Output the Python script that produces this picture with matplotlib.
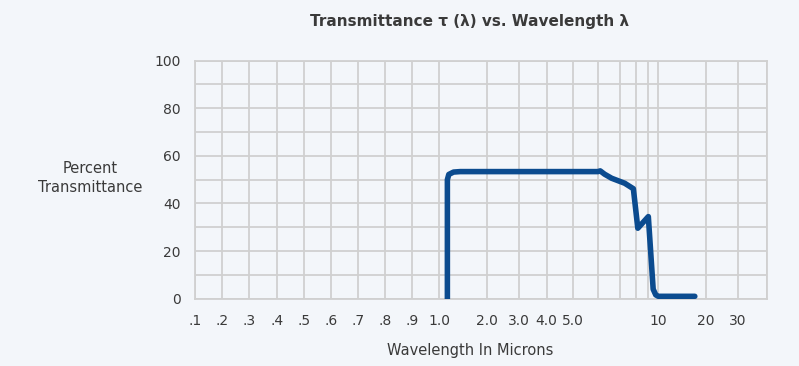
import numpy as np
import matplotlib
matplotlib.use('Agg')
import matplotlib.pyplot as plt

# eixo x desenhado a mao no original: posicao relativa de cada marca
tick_wl = [0.1, 0.2, 0.3, 0.4, 0.5, 0.6, 0.7, 0.8, 0.9, 1.0,
           2, 3, 4, 5, 6, 7, 8, 9, 10, 20, 30, 40]
tick_pos = [194.7, 222.3, 249.3, 276.7, 303.7, 331, 358, 385.3, 412.3, 439.3,
            486.7, 519.3, 546.7, 573.3, 598, 620, 635.7, 648, 658.3, 705.7, 737.7, 766.7]
tick_labels = ['.1', '.2', '.3', '.4', '.5', '.6', '.7', '.8', '.9', '1.0',
               '2.0', '3.0', '4.0', '5.0', '', '', '', '', '10', '20', '30', '']

# curva de transmitancia
wavelength = [1.17, 1.17, 1.2, 1.3, 1.44, 3.0, 5.0, 6.0, 6.1, 6.3, 6.62, 7.3, 7.85,
              8.17, 9.03, 9.5, 9.75, 10.0, 12.0, 17.7]
transmit = [0, 50, 52.2, 53.2, 53.4, 53.4, 53.4, 53.4, 53.7, 52.3, 50.6, 48.5, 46.2,
            29.6, 34.5, 4.0, 1.6, 1.0, 1.0, 1.0]

BG = '#f3f6fa'
GRID = '#d0d0d0'
TXT = '#3a3a3a'
LINE = '#0b4b8f'


def fwd(x):
    return np.interp(x, tick_wl, tick_pos)


def inv(p):
    return np.interp(p, tick_pos, tick_wl)


fig = plt.figure(figsize=(7.99, 3.66), dpi=100, facecolor=BG)
ax = fig.add_axes([0.2437, 0.1839, 0.7159, 0.6503])
ax.set_facecolor(BG)

ax.set_xscale('function', functions=(fwd, inv))
ax.set_xlim(0.1, 40)
ax.set_ylim(0, 100)

ax.set_xticks(tick_wl)
ax.set_xticklabels(tick_labels)
ax.set_yticks(np.arange(0, 101, 10))
ax.set_yticklabels([str(v) if v % 20 == 0 else '' for v in range(0, 101, 10)])
ax.minorticks_off()

ax.grid(True, color=GRID, linewidth=1.3)
ax.set_axisbelow(True)
for s in ax.spines.values():
    s.set_color(GRID)
    s.set_linewidth(1.3)

ax.tick_params(length=0, labelsize=10, colors=TXT)
ax.tick_params(axis='x', pad=11)
ax.tick_params(axis='y', pad=10)

ax.plot(wavelength, transmit, color=LINE, linewidth=4,
        solid_joinstyle='round', solid_capstyle='round', zorder=3)

fig.text(0.588, 0.94, 'Transmittance \u03c4 (\u03bb) vs. Wavelength \u03bb',
         ha='center', va='center', fontsize=11, fontweight='bold', color=TXT)
fig.text(0.113, 0.513, 'Percent\nTransmittance', ha='center', va='center',
         fontsize=10.5, color=TXT, linespacing=1.35)
fig.text(0.588, 0.043, 'Wavelength In Microns', ha='center', va='center',
         fontsize=10.5, color=TXT)

plt.savefig('out.png', dpi=100, facecolor=BG)
